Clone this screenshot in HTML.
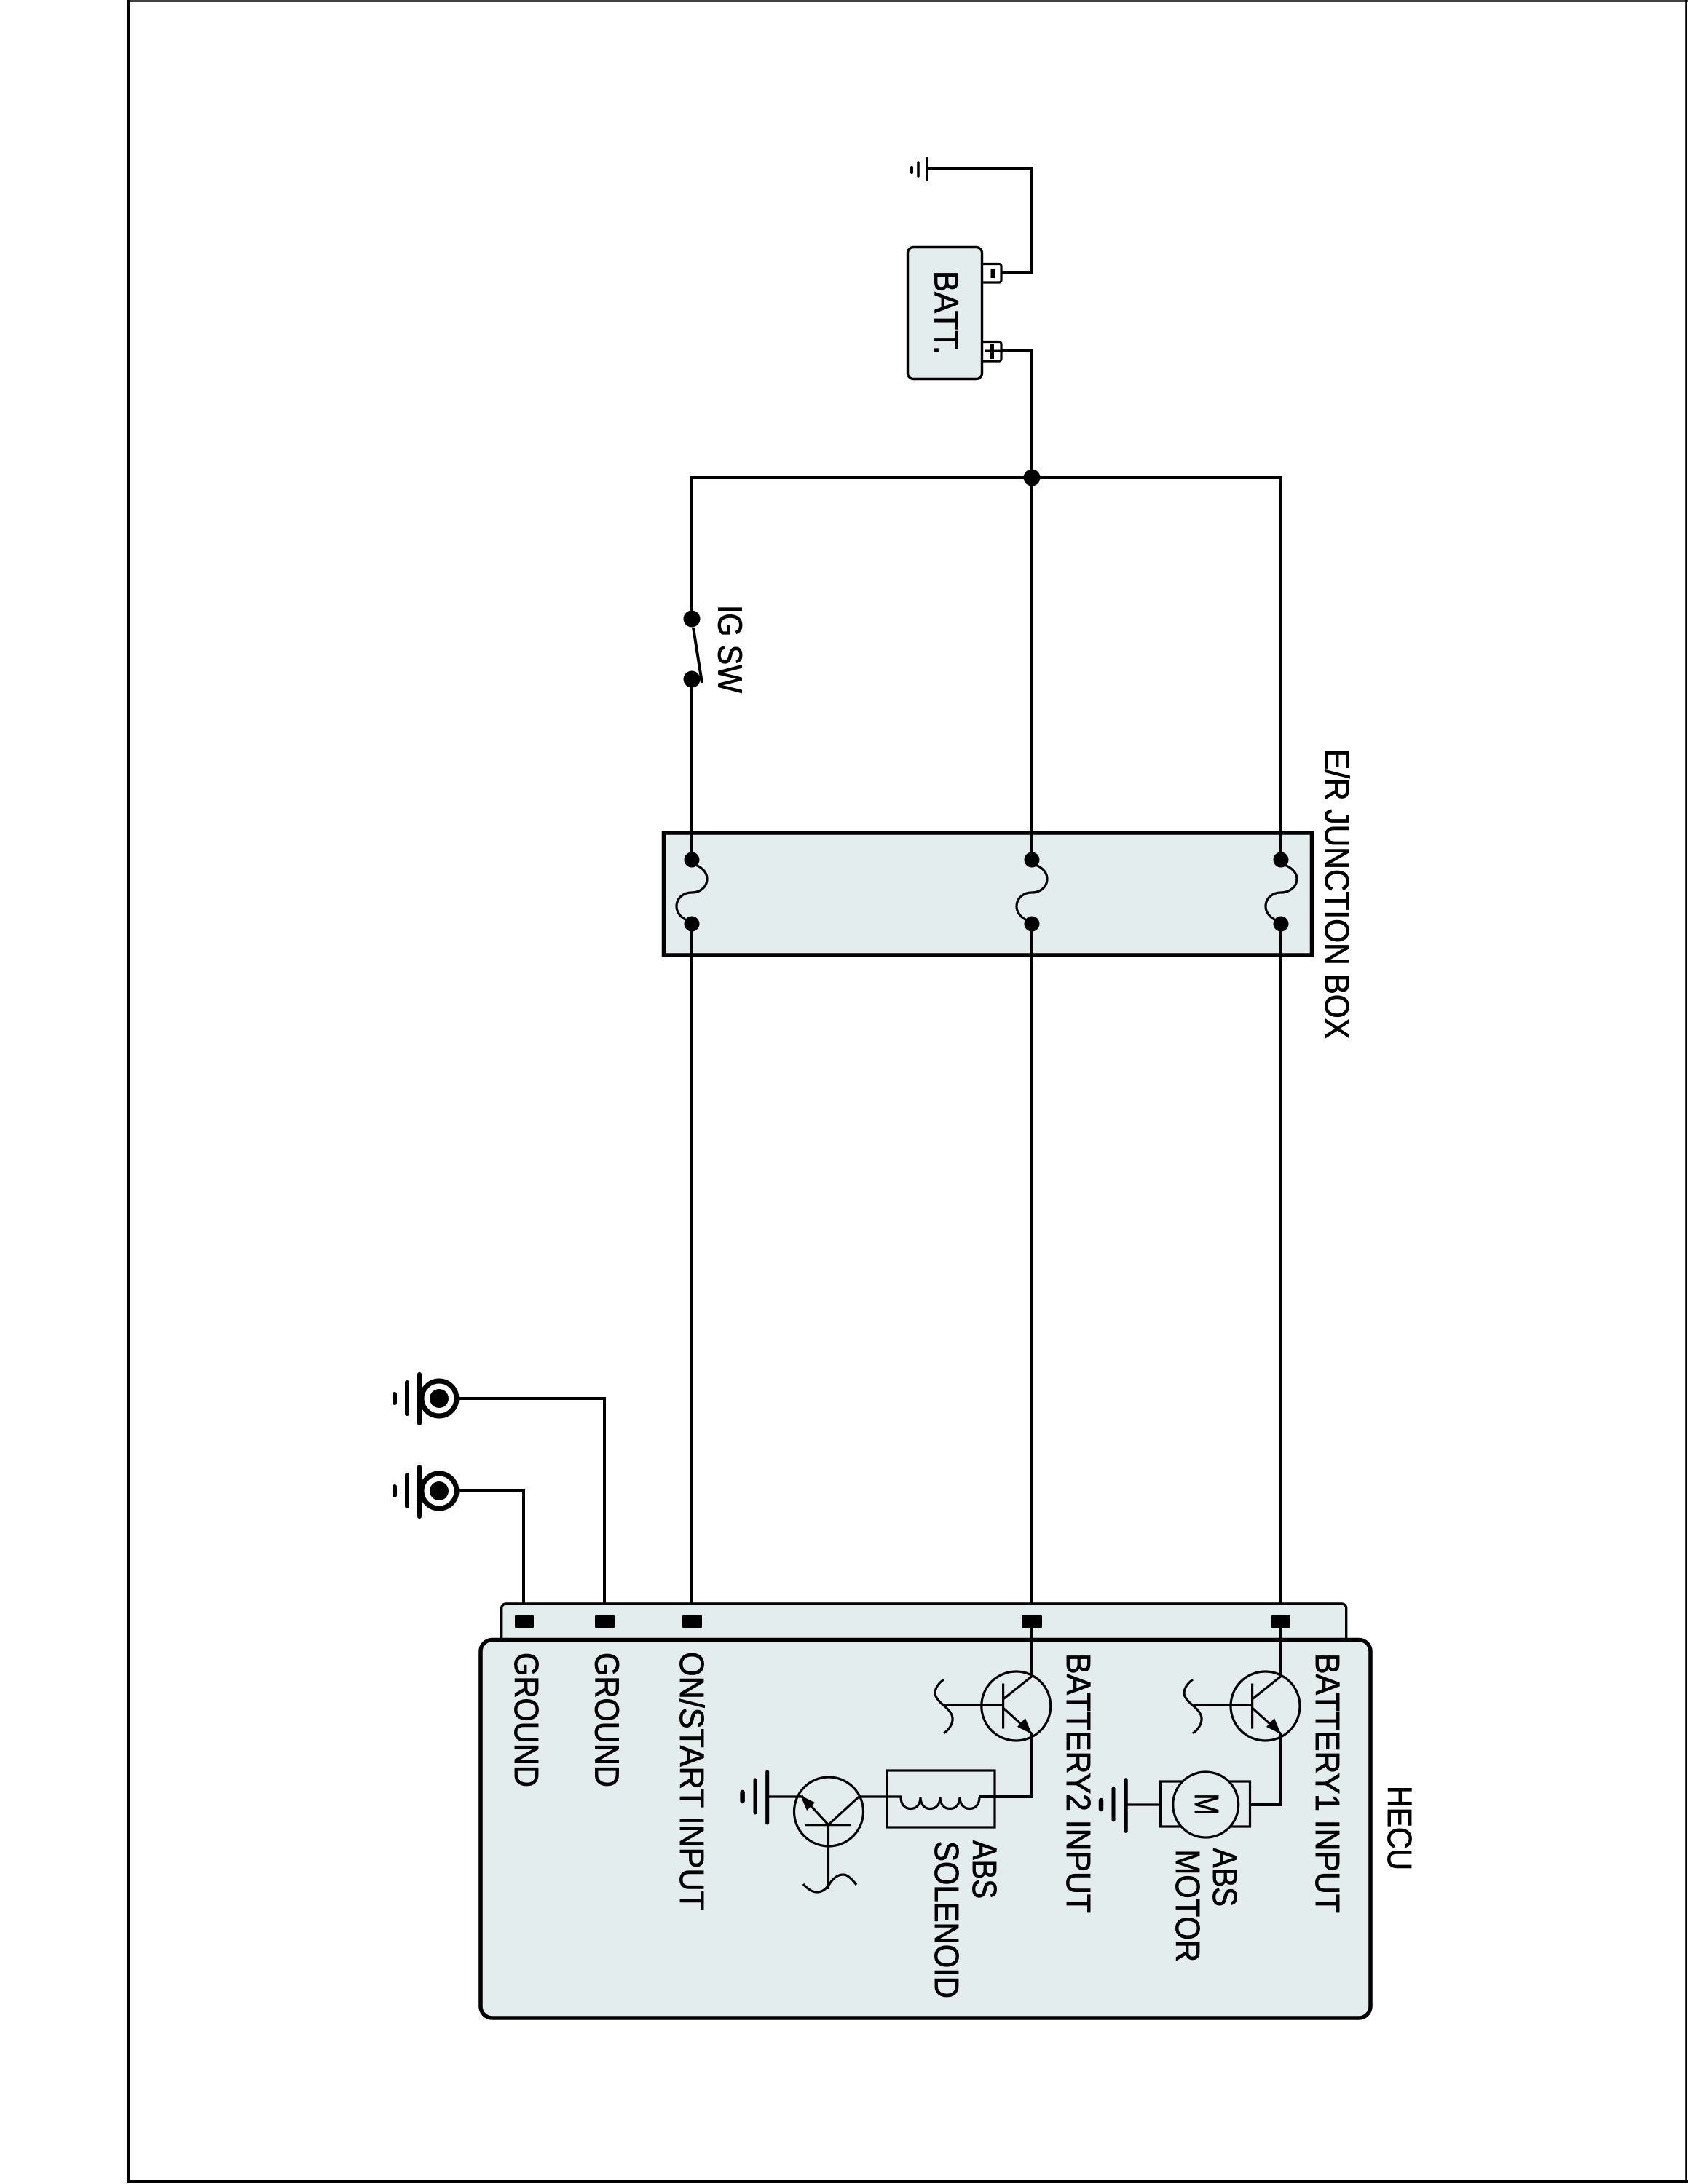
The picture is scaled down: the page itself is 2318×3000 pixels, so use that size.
<!DOCTYPE html>
<html><head><meta charset="utf-8"><style>
html,body{margin:0;padding:0;background:#fff}
svg{display:block}
text{font-family:"Liberation Sans",sans-serif;font-size:46px;fill:#000;stroke:#000;stroke-width:.9}
.w{fill:none;stroke:#000;stroke-width:4}
.t{fill:none;stroke:#000;stroke-width:3.2}
.b{fill:#e4edee;stroke:#000;stroke-width:3.4}
.g{stroke:#000;stroke-linecap:round;fill:none}
</style></head><body>
<svg xmlns="http://www.w3.org/2000/svg" width="2318" height="3000" viewBox="0 0 2318 3000">
<rect width="2318" height="3000" fill="#fff"/>
<!-- page frame -->
<path d="M176.5 0V2998" fill="none" stroke="#000" stroke-width="4"/>
<path d="M176 1.5H2318" fill="none" stroke="#000" stroke-width="2.5"/>
<path d="M2315.5 0V2996.5" fill="none" stroke="#000" stroke-width="2.5"/>
<path d="M175 2996.7H2318" fill="none" stroke="#000" stroke-width="3.5"/>

<!-- battery -->
<rect class="b" x="1246.5" y="339.5" width="102" height="181" rx="8"/>
<path class="t" d="M1348 362.5H1372a3 3 0 0 1 3 3V385a3 3 0 0 1-3 3H1348" fill="#fff"/>
<path class="t" d="M1348 469.5H1372a3 3 0 0 1 3 3V493a3 3 0 0 1-3 3H1348" fill="#fff"/>
<rect x="1360.5" y="370" width="5.5" height="12"/>
<rect x="1359.5" y="472" width="5.5" height="21"/>
<rect x="1352" y="480.5" width="24" height="3.5"/>
<path class="w" d="M1376 374H1417V232H1273"/>
<path class="w" d="M1376 482H1417V656"/>
<path class="g" stroke-width="4" d="M1273 218V247"/>
<path class="g" stroke-width="3.5" d="M1261 223V242"/>
<path class="g" stroke-width="4" d="M1252 230V237"/>

<!-- main bus -->
<path class="w" d="M950 850V656H1759V1181"/>
<path class="w" d="M1417 656V1181"/>
<circle cx="1417" cy="656" r="11.5"/>

<!-- IG switch -->
<path class="w" d="M950 933V1181"/>
<circle cx="950" cy="850" r="11.5"/>
<circle cx="950" cy="933" r="11.5"/>
<path d="M952 862L964 938" fill="none" stroke="#000" stroke-width="4"/>

<!-- junction box -->
<rect x="911.5" y="1144" width="890" height="168" fill="#e4edee" stroke="#000" stroke-width="5.5"/>
<path class="w" d="M950 1140V1181M1417 1140V1181M1759 1140V1181"/>
<path class="w" d="M950 1269V2219M1417 1269V2219M1759 1269V2219"/>
<g fill="#000">
<circle cx="950" cy="1181" r="10.5"/><circle cx="950" cy="1269" r="10.5"/>
<circle cx="1417" cy="1181" r="10.5"/><circle cx="1417" cy="1269" r="10.5"/>
<circle cx="1759" cy="1181" r="10.5"/><circle cx="1759" cy="1269" r="10.5"/>
</g>
<path class="t" d="M955 1188C966 1192 971 1200 971 1207C971 1218 962 1226 950 1226C938 1226 929 1234 929 1245C929 1253 935 1261 945 1265"/>
<path class="t" d="M1422 1188C1433 1192 1438 1200 1438 1207C1438 1218 1429 1226 1417 1226C1405 1226 1396 1234 1396 1245C1396 1253 1402 1261 1412 1265"/>
<path class="t" d="M1764 1188C1775 1192 1781 1200 1781 1207C1781 1218 1771 1226 1759 1226C1747 1226 1738 1234 1738 1245C1738 1253 1744 1261 1754 1265"/>

<!-- ground symbols -->
<path class="w" d="M630 1921H830V2219"/>
<path class="w" d="M630 2048H719V2219"/>
<circle cx="603" cy="1921" r="24" fill="#fff" stroke="#000" stroke-width="7"/>
<circle cx="603" cy="1921" r="13"/>
<circle cx="603" cy="2048" r="24" fill="#fff" stroke="#000" stroke-width="7"/>
<circle cx="603" cy="2048" r="13"/>
<path class="g" stroke-width="6" d="M576 1888V1955M559 1899V1942M542 1915V1927"/>
<path class="g" stroke-width="6" d="M576 2015V2083M559 2026V2069M542 2042V2054"/>

<!-- HECU -->
<rect class="b" x="688.7" y="2203" width="1160" height="70" rx="6"/>
<rect x="660" y="2252.5" width="1222" height="519.5" rx="16" fill="#e4edee" stroke="#000" stroke-width="5.5"/>
<rect x="707" y="2219" width="26" height="17" rx="1"/>
<rect x="817" y="2219" width="27" height="17" rx="1"/>
<rect x="937" y="2219" width="27" height="17" rx="1"/>
<rect x="1403" y="2219" width="28" height="17" rx="1"/>
<rect x="1746" y="2219" width="26" height="17" rx="1"/>

<!-- Transistor battery 2 -->
<path class="w" d="M1417 2236V2302.6"/>
<path class="w" d="M1417 2381V2468H1345"/>
<circle class="t" cx="1395.3" cy="2343.5" r="47.5"/>
<path class="t" d="M1377.6 2312.5V2374.5M1297 2342H1377.6M1377.6 2334L1417 2302.6M1377.6 2346L1417 2381.7"/>
<path d="M1417 2382L1397 2372L1408 2360Z"/>
<path class="t" d="M1296 2307C1286 2314 1282 2324 1285 2330C1290 2340 1300 2344 1305 2352C1312 2362 1306 2374 1296 2381"/>

<!-- Solenoid -->
<rect class="t" x="1218" y="2432" width="148" height="78"/>
<path class="t" d="M1179.5 2468H1237C1237 2478 1242 2484.5 1250.5 2484.5C1259 2484.5 1264 2478 1264 2468C1264 2478 1269 2484.5 1277.5 2484.5C1286 2484.5 1291 2478 1291 2468C1291 2478 1296 2484.5 1304.5 2484.5C1313 2484.5 1318 2478 1318 2468C1318 2478 1323 2484.5 1331.5 2484.5C1340 2484.5 1345 2478 1345 2468"/>

<!-- Transistor solenoid low side -->
<circle class="t" cx="1138" cy="2488.5" r="47.5"/>
<path class="t" d="M1106 2506.6H1168.6M1137.5 2506.6V2595M1137.5 2506.6L1101 2467M1137.5 2506.6L1179.5 2468M1054 2468H1101"/>
<path d="M1099 2466L1119 2476L1108 2487Z"/>
<path class="t" d="M1103 2588C1110 2596 1116 2599 1122 2599C1130 2599 1135 2594 1139 2588C1144 2580 1150 2575 1158 2575C1164 2575 1170 2581 1176 2589"/>
<path class="g" stroke-width="5" d="M1053.7 2434V2504"/>
<path class="g" stroke-width="5" d="M1037 2445V2490"/>
<path class="g" stroke-width="6.5" d="M1019.6 2462V2474"/>

<!-- Transistor battery 1 -->
<path class="w" d="M1759 2236V2302.6"/>
<path class="w" d="M1759 2381V2479H1716.5"/>
<circle class="t" cx="1737.5" cy="2343.5" r="47.5"/>
<path class="t" d="M1719.6 2312.5V2374.5M1639 2342H1719.6M1719.6 2334L1759 2302.6M1719.6 2346L1759 2381.7"/>
<path d="M1759 2382L1739 2372L1750 2360Z"/>
<path class="t" d="M1638 2307C1628 2314 1624 2324 1627 2330C1632 2340 1642 2344 1647 2352C1654 2362 1648 2374 1638 2381"/>

<!-- Motor -->
<rect class="t" x="1593.5" y="2447" width="123" height="62"/>
<circle cx="1655.7" cy="2479" r="45" fill="#e4edee" stroke="#000" stroke-width="3.2"/>
<path class="t" d="M1593.5 2479H1546"/>
<path class="g" stroke-width="5.5" d="M1546 2445V2515"/>
<path class="g" stroke-width="5" d="M1529 2457V2500"/>
<path class="g" stroke-width="6.5" d="M1512 2473V2485"/>

<!-- Labels -->
<text transform="translate(1283.5,372) rotate(90)" textLength="115" lengthAdjust="spacingAndGlyphs">BATT.</text>
<text transform="translate(986.5,831) rotate(90)" textLength="121" lengthAdjust="spacingAndGlyphs">IG SW</text>
<text transform="translate(1820,1029) rotate(90)" textLength="398" lengthAdjust="spacingAndGlyphs">E/R JUNCTION BOX</text>
<text transform="translate(707,2270) rotate(90)" textLength="185" lengthAdjust="spacingAndGlyphs">GROUND</text>
<text transform="translate(817.5,2270) rotate(90)" textLength="185" lengthAdjust="spacingAndGlyphs">GROUND</text>
<text transform="translate(934,2269) rotate(90)" textLength="355" lengthAdjust="spacingAndGlyphs">ON/START INPUT</text>
<text transform="translate(1465,2271) rotate(90)" textLength="357" lengthAdjust="spacingAndGlyphs">BATTERY2 INPUT</text>
<text transform="translate(1807,2271) rotate(90)" textLength="357" lengthAdjust="spacingAndGlyphs">BATTERY1 INPUT</text>
<text transform="translate(1906,2453) rotate(90)" textLength="116" lengthAdjust="spacingAndGlyphs">HECU</text>
<text transform="translate(1666,2538.5) rotate(90)" textLength="80.5" lengthAdjust="spacingAndGlyphs">ABS</text>
<text transform="translate(1615,2540.5) rotate(90)" textLength="154.5" lengthAdjust="spacingAndGlyphs">MOTOR</text>
<text transform="translate(1336,2528) rotate(90)" textLength="80" lengthAdjust="spacingAndGlyphs">ABS</text>
<text transform="translate(1284,2529) rotate(90)" textLength="216" lengthAdjust="spacingAndGlyphs">SOLENOID</text>
<text transform="translate(1641,2463.5) rotate(90)" textLength="30" lengthAdjust="spacingAndGlyphs">M</text>
</svg>
</body></html>
